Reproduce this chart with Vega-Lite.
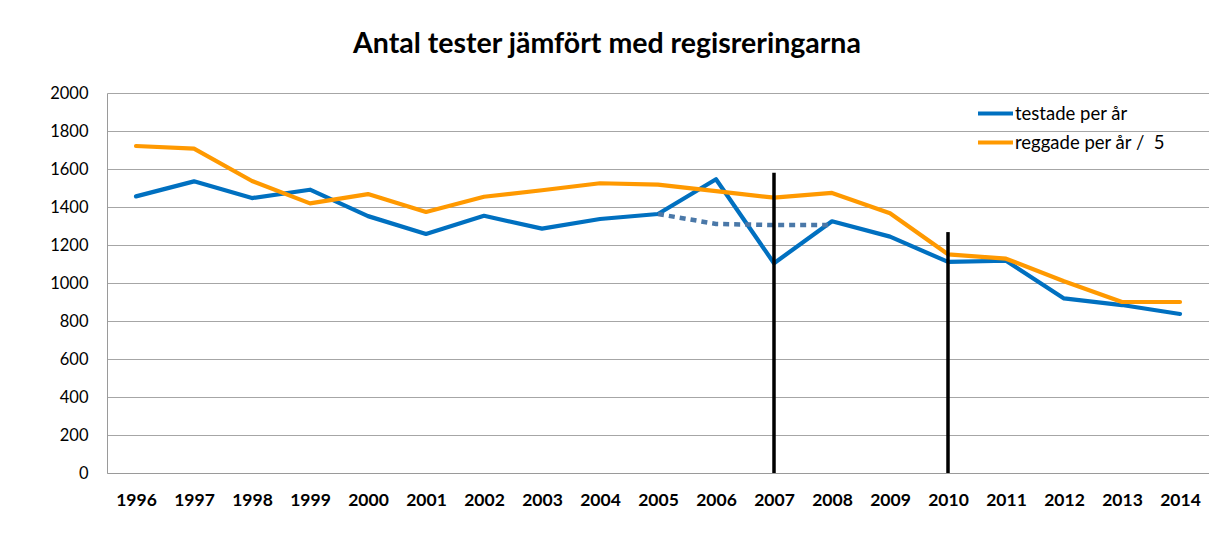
{
  "$schema": "https://vega.github.io/schema/vega-lite/v6.json",
  "width": 1102,
  "height": 380,
  "autosize": {"type": "none"},
  "padding": {"left": 107, "top": 93, "right": 0, "bottom": 72},
  "background": "white",
  "title": {
    "text": "Antal tester jämfört med regisreringarna",
    "font": "Lato",
    "fontSize": 28.5,
    "fontWeight": "bold",
    "color": "#000000",
    "anchor": "middle",
    "frame": "group",
    "dx": -51,
    "offset": 27
  },
  "config": {
    "view": {"stroke": null},
    "axis": {
      "labelFont": "Lato",
      "labelColor": "#000000",
      "domainColor": "#9a9a9a",
      "gridColor": "#a6a6a6",
      "gridWidth": 1,
      "ticks": false,
      "title": null
    },
    "legend": {"labelFont": "Lato"}
  },
  "datasets": {
    "series": [
      {"year": "1996", "value": 1456, "series": "testade per år"},
      {"year": "1997", "value": 1535, "series": "testade per år"},
      {"year": "1998", "value": 1447, "series": "testade per år"},
      {"year": "1999", "value": 1491, "series": "testade per år"},
      {"year": "2000", "value": 1352, "series": "testade per år"},
      {"year": "2001", "value": 1258, "series": "testade per år"},
      {"year": "2002", "value": 1354, "series": "testade per år"},
      {"year": "2003", "value": 1286, "series": "testade per år"},
      {"year": "2004", "value": 1337, "series": "testade per år"},
      {"year": "2005", "value": 1363, "series": "testade per år"},
      {"year": "2006", "value": 1546, "series": "testade per år"},
      {"year": "2007", "value": 1104, "series": "testade per år"},
      {"year": "2008", "value": 1325, "series": "testade per år"},
      {"year": "2009", "value": 1244, "series": "testade per år"},
      {"year": "2010", "value": 1111, "series": "testade per år"},
      {"year": "2011", "value": 1117, "series": "testade per år"},
      {"year": "2012", "value": 919, "series": "testade per år"},
      {"year": "2013", "value": 884, "series": "testade per år"},
      {"year": "2014", "value": 837, "series": "testade per år"},
      {"year": "1996", "value": 1721, "series": "reggade per år / \u00a05"},
      {"year": "1997", "value": 1707, "series": "reggade per år / \u00a05"},
      {"year": "1998", "value": 1537, "series": "reggade per år / \u00a05"},
      {"year": "1999", "value": 1419, "series": "reggade per år / \u00a05"},
      {"year": "2000", "value": 1468, "series": "reggade per år / \u00a05"},
      {"year": "2001", "value": 1374, "series": "reggade per år / \u00a05"},
      {"year": "2002", "value": 1454, "series": "reggade per år / \u00a05"},
      {"year": "2003", "value": 1488, "series": "reggade per år / \u00a05"},
      {"year": "2004", "value": 1525, "series": "reggade per år / \u00a05"},
      {"year": "2005", "value": 1518, "series": "reggade per år / \u00a05"},
      {"year": "2006", "value": 1484, "series": "reggade per år / \u00a05"},
      {"year": "2007", "value": 1449, "series": "reggade per år / \u00a05"},
      {"year": "2008", "value": 1474, "series": "reggade per år / \u00a05"},
      {"year": "2009", "value": 1367, "series": "reggade per år / \u00a05"},
      {"year": "2010", "value": 1151, "series": "reggade per år / \u00a05"},
      {"year": "2011", "value": 1128, "series": "reggade per år / \u00a05"},
      {"year": "2012", "value": 1009, "series": "reggade per år / \u00a05"},
      {"year": "2013", "value": 900, "series": "reggade per år / \u00a05"},
      {"year": "2014", "value": 900, "series": "reggade per år / \u00a05"}
    ],
    "dotted": [
      {"year": "2005", "value": 1363},
      {"year": "2006", "value": 1311},
      {"year": "2007", "value": 1305},
      {"year": "2008", "value": 1305}
    ],
    "markers": [
      {"year": "2007", "value": 1580, "base": 0},
      {"year": "2010", "value": 1268, "base": 0}
    ]
  },
  "encoding": {
    "x": {
      "field": "year",
      "type": "ordinal",
      "scale": {"type": "point", "padding": 0.5},
      "axis": {
        "labelAngle": 0,
        "labelFontSize": 17.5,
        "labelFontWeight": "bold",
        "labelPadding": 18,
        "grid": false,
        "domain": true
      }
    },
    "y": {
      "field": "value",
      "type": "quantitative",
      "scale": {"domain": [0, 2000], "nice": false},
      "axis": {
        "values": [0, 200, 400, 600, 800, 1000, 1200, 1400, 1600, 1800, 2000],
        "format": "d",
        "labelFontSize": 16.5,
        "labelPadding": 19,
        "labelOverlap": false,
        "grid": true,
        "domain": true
      }
    }
  },
  "layer": [
    {
      "data": {"name": "series"},
      "mark": {"type": "line", "strokeWidth": 4.2, "strokeCap": "round", "strokeJoin": "round"},
      "encoding": {
        "color": {
          "field": "series",
          "type": "nominal",
          "scale": {
            "domain": ["testade per år", "reggade per år / \u00a05"],
            "range": ["#0070C0", "#FF9900"]
          },
          "legend": {
            "title": null,
            "orient": "none",
            "legendX": 869,
            "legendY": 1,
            "symbolType": "stroke",
            "symbolSize": 1225,
            "symbolStrokeWidth": 4,
            "labelFontSize": 18.5,
            "labelColor": "#000000",
            "labelOffset": 0,
            "rowPadding": -6
          }
        }
      }
    },
    {
      "data": {"name": "dotted"},
      "mark": {"type": "line", "strokeWidth": 4.5, "color": "#4A78A8", "strokeDash": [6, 5]}
    },
    {
      "data": {"name": "markers"},
      "mark": {"type": "rule", "strokeWidth": 3.5, "color": "#000000"},
      "encoding": {
        "y2": {"field": "base"}
      }
    }
  ]
}
